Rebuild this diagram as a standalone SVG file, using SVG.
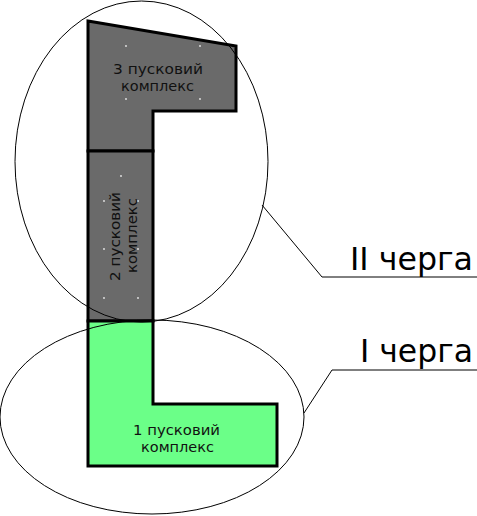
<svg xmlns="http://www.w3.org/2000/svg" width="477" height="516" viewBox="0 0 477 516">
  <style>
    .blk { stroke: #000; stroke-width: 3; stroke-linejoin: miter; }
    .grey { fill: #6a6a6a; }
    .green { fill: #6bff88; }
    .lbl { font-family: "DejaVu Sans", "Liberation Sans", sans-serif; font-size: 14px; fill: #111; text-anchor: middle; }
    .queue { font-family: "DejaVu Sans", "Liberation Sans", sans-serif; font-size: 32px; fill: #000; }
    .zone { fill: none; stroke: #000; stroke-width: 1; }
    .lead { fill: none; stroke: #000; stroke-width: 1; }
    .pt { fill: #e8e8e8; }
  </style>
  <rect width="477" height="516" fill="#fff"/>

  <g id="complex-3">
    <path class="blk grey" d="M88,21 L236,46 L236,111 L153,111 L153,151 L88,151 Z"/>
    <circle class="pt" cx="126" cy="46" r="0.9"/>
    <circle class="pt" cx="200" cy="46" r="0.9"/>
    <circle class="pt" cx="126" cy="99" r="0.9"/>
    <circle class="pt" cx="200" cy="99" r="0.9"/>
    <text class="lbl" x="158" y="74" textLength="90" lengthAdjust="spacingAndGlyphs">3 пусковий</text>
    <text class="lbl" x="157.5" y="91" textLength="73" lengthAdjust="spacingAndGlyphs">комплекс</text>
  </g>

  <g id="complex-2">
    <rect class="blk grey" x="88" y="151" width="65" height="170"/>
    <circle class="pt" cx="121" cy="176" r="0.9"/>
    <circle class="pt" cx="104" cy="201" r="0.9"/>
    <circle class="pt" cx="138" cy="201" r="0.9"/>
    <circle class="pt" cx="104" cy="249" r="0.9"/>
    <circle class="pt" cx="138" cy="249" r="0.9"/>
    <circle class="pt" cx="104" cy="298" r="0.9"/>
    <circle class="pt" cx="138" cy="298" r="0.9"/>
    <text class="lbl" transform="translate(120,236.5) rotate(-90)" textLength="89" lengthAdjust="spacingAndGlyphs">2 пусковий</text>
    <text class="lbl" transform="translate(137,235.5) rotate(-90)" textLength="75" lengthAdjust="spacingAndGlyphs">комплекс</text>
  </g>

  <g id="complex-1">
    <path class="blk green" d="M88,321 L153,321 L153,404 L277,404 L277,466 L88,466 Z"/>
    <text class="lbl" x="176.5" y="435" textLength="87" lengthAdjust="spacingAndGlyphs">1 пусковий</text>
    <text class="lbl" x="177.5" y="452" textLength="73" lengthAdjust="spacingAndGlyphs">комплекс</text>
  </g>

  <g id="stage-2">
    <ellipse class="zone" cx="141.5" cy="161.5" rx="126.5" ry="160.5"/>
    <text class="queue" x="350" y="270" textLength="123" lengthAdjust="spacingAndGlyphs">II черга</text>
  </g>

  <g id="stage-1">
    <ellipse class="zone" cx="152" cy="417" rx="152" ry="97"/>
    <text class="queue" x="360" y="362" textLength="113" lengthAdjust="spacingAndGlyphs">I черга</text>
  </g>

  <g id="connectors">
    <polyline class="lead" points="262,205 322,277 477,277"/>
    <polyline class="lead" points="304,413 332,370 477,370"/>
  </g>
</svg>
